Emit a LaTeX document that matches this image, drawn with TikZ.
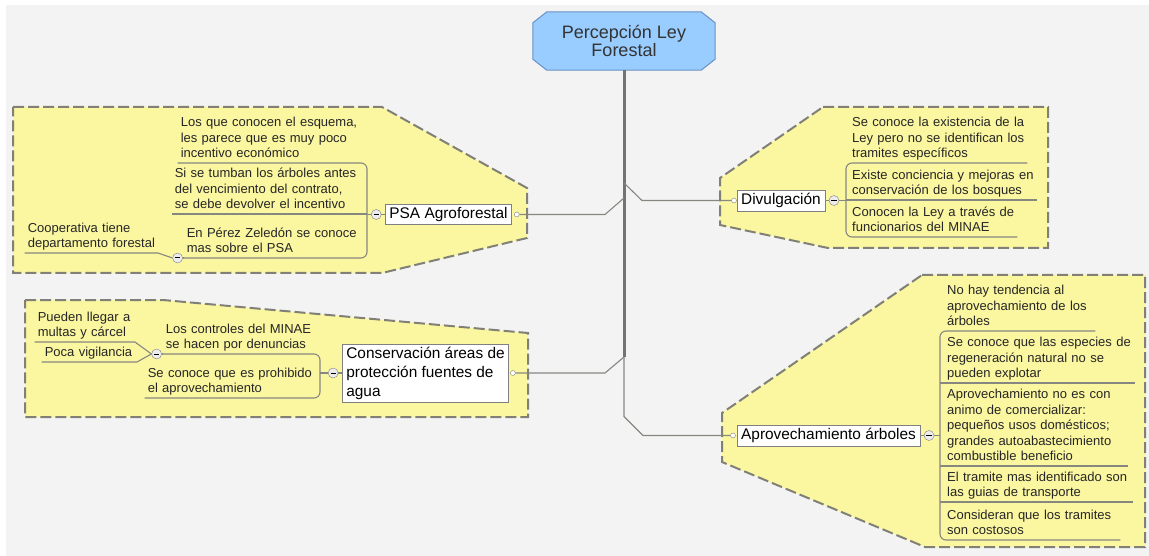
\documentclass[tikz,border=0pt]{standalone}
\usepackage{fontspec}
\setmainfont{Liberation Sans}
\usetikzlibrary{backgrounds}
\definecolor{bggray}{RGB}{243,243,243}
\definecolor{notefill}{RGB}{251,246,160}
\definecolor{noteline}{RGB}{128,128,118}
\definecolor{linkgray}{RGB}{135,135,130}
\definecolor{titlefill}{RGB}{153,204,255}
\definecolor{titleline}{RGB}{105,145,195}
\newcommand{\rows}[1]{\begin{tabular}[b]{@{}l@{}}#1\end{tabular}}

\begin{document}
\begin{tikzpicture}[x=1pt,y=-1pt,
  note/.style={fill=notefill,draw=noteline,line width=2pt,dash pattern=on 11pt off 4pt},
  link/.style={draw=linkgray,line width=1.1pt},
  trunk/.style={draw=gray!90!black,line width=3pt},
  title/.style={minimum width=182pt,minimum height=58pt,
    align=center,font=\fontsize{18}{18.5}\selectfont,text=black!80},
  titlebox/.style={draw=titleline,fill=titlefill,line width=1pt},
  topic/.style={draw=gray,fill=white,font=\fontsize{15.4}{19}\selectfont,inner xsep=4pt,inner ysep=3pt,align=left},
  leaf/.style={inner ysep=0.5pt,align=left,font=\fontsize{13}{15.5}\selectfont,text=black!85},
  rleaf/.style={leaf,anchor=south west,inner xsep=6pt},
  lleaf/.style={leaf,anchor=south east,inner xsep=3pt},
  fold/.style={circle,draw=gray,fill=gray!15,inner sep=0pt,minimum size=10pt,
    path picture={\draw[black,line width=1pt] ([xshift=-2.6pt]path picture bounding box.center) -- ([xshift=2.6pt]path picture bounding box.center);}},
  handle/.style={circle,draw=gray,fill=white,inner sep=0pt,minimum size=5pt}]

% canvas
\useasboundingbox (0,0) rectangle (1149,556);
\begin{scope}[on background layer]
\fill[white] (0,0) rectangle (1149,556);
\fill[bggray] (6,5) rectangle (1149,556);
\end{scope}

% yellow boundaries
\draw[note] (13,107) -- (382,107) -- (527,188) -- (527,238) -- (382,273) -- (13,273) -- cycle;
\draw[note] (823,107) -- (1048,107) -- (1048,248) -- (828,248) -- (720,225) -- (720,178) -- cycle;
\draw[note] (25,300) -- (163,300) -- (528,333) -- (528,417) -- (25,417) -- cycle;
\draw[note] (922,275) -- (1145,275) -- (1145,547) -- (925,547) -- (722,462) -- (722,413) -- cycle;

% central topic and main topics
\node[title] (title) at (624,41) {Percepción Ley\\Forestal};
\begin{scope}[on background layer]
\draw[titlebox] ([xshift=14pt]title.north west) -- ([xshift=-14pt]title.north east)
  -- ([yshift=-11pt]title.north east) -- ([yshift=11pt]title.south east)
  -- ([xshift=-14pt]title.south east) -- ([xshift=14pt]title.south west)
  -- ([yshift=11pt]title.south west) -- ([yshift=-11pt]title.north west) -- cycle;
\end{scope}
\node[topic] (psa) at (448.5,214.5) {PSA Agroforestal};
\node[topic] (div) at (781,200.5) {Divulgación};
\node[topic] (con) at (425.5,373) {Conservación áreas de\\protección fuentes de\\agua};
\node[topic] (apr) at (828.5,435.5) {Aprovechamiento árboles};

\node[handle] (psah) at ([xshift=5pt]psa.east) {};
\node[handle] (conh) at ([xshift=4pt]con.east) {};
\node[handle] (divh) at ([xshift=-3pt]div.west) {};
\node[handle] (aprh) at ([xshift=-4pt]apr.west) {};
\node[fold] (psaf) at ([xshift=-9pt]psa.west) {};
\node[fold] (conf) at ([xshift=-9pt]con.west) {};
\node[fold] (divf) at ([xshift=9pt]div.east) {};
\node[fold] (aprf) at ([xshift=9pt]apr.east) {};

% trunk
\coordinate (tdiv) at (624,183);
\coordinate (tpsa) at (624,198);
\coordinate (tcon) at (624,357);
\draw[trunk] (title.south) -- (tcon);
\draw[link] (psah.east) -- ([xshift=-19pt]psah.east -| tpsa) -- (tpsa);
\draw[link] (tdiv) -- ([xshift=18pt]tdiv |- divh.west) -- (divh.west);
\draw[link] (conh.east) -- ([xshift=-19pt]conh.east -| tcon) -- (tcon);
\draw[link] (tcon) -- ([yshift=19pt]aprh.west -| tcon) -- ([xshift=19pt]aprh.west -| tcon) -- (aprh.west);
\foreach \f/\t in {psaf/psa,conf/con,divf/div,aprf/apr}
  \draw[link] (\f) -- (\t);

% Divulgacion
\node[rleaf,text width=169pt] (d1) at (846,163) {\rows{Se conoce la existencia de la\\Ley pero no se identifican los\\tramites específicos}};
\node[rleaf,text width=179pt] (d2) at (846,200) {\rows{Existe conciencia y mejoras en\\conservación de los bosques}};
\node[rleaf,text width=159pt] (d3) at (846,237) {\rows{Conocen la Ley a través de\\funcionarios del MINAE}};
\draw[link,rounded corners=6pt] (d1.south east) -- (d1.south west) -- (d3.south west) -- (d3.south east);
\draw[link] (d2.south west) -- (d2.south east);
\draw[link] (divf.east) -- (divf.east -| d2.south west);

% Aprovechamiento
\node[rleaf,inner xsep=7pt,text width=141pt] (a1) at (940,331) {\rows{No hay tendencia al\\aprovechamiento de los\\árboles}};
\node[rleaf,inner xsep=7pt,text width=181pt] (a2) at (940,383) {\rows{Se conoce que las especies de\\regeneración natural no se\\pueden explotar}};
\node[rleaf,inner xsep=7pt,text width=174pt] (a3) at (940,466) {\rows{Aprovechamiento no es con\\animo de comercializar:\\pequeños usos domésticos;\\grandes autoabastecimiento\\combustible beneficio}};
\node[rleaf,inner xsep=7pt,text width=179pt] (a4) at (940,502) {\rows{El tramite mas identificado son\\las guias de transporte}};
\node[rleaf,inner xsep=7pt,text width=166pt] (a5) at (940,540) {\rows{Consideran que los tramites\\son costosos}};
\draw[link,rounded corners=6pt] (a1.south east) -- (a1.south west) -- (a5.south west) -- (a5.south east);
\foreach \n in {a2,a3,a4}
  \draw[link] (\n.south west) -- (\n.south east);
\draw[link] (aprf.east) -- (aprf.east -| a1.south west);

% PSA Agroforestal
\node[lleaf,text width=183pt] (p1) at (367,163) {\rows{Los que conocen el esquema,\\les parece que es muy poco\\incentivo económico}};
\node[lleaf,text width=189pt] (p2) at (367,214) {\rows{Si se tumban los árboles antes\\del vencimiento del contrato,\\se debe devolver el incentivo}};
\node[lleaf,text width=177pt] (p3) at (367,258) {\rows{En Pérez Zeledón se conoce\\mas sobre el PSA}};
\node[fold] (p3f) at ([xshift=-6pt]p3.south west) {};
\node[lleaf,text width=127pt] (pc) at (158,253) {\rows{Cooperativa tiene\\departamento forestal}};
\draw[link,rounded corners=6pt] (p1.south west) -- (p1.south east) -- (p3.south east) -- (p3.south west);
\draw[link] (p2.south west) -- (p2.south east);
\draw[link] (psaf.west) -- (psaf.west -| p1.south east);
\draw[link] (p3f.east) -- (p3.south west);
\draw[link] (pc.south west) -- (pc.south east) -- (p3f.west);

% Conservacion
\node[lleaf,text width=151pt] (k1) at (320,354) {\rows{Los controles del MINAE\\se hacen por denuncias}};
\node[lleaf,text width=169pt] (k2) at (320,398) {\rows{Se conoce que es prohibido\\el aprovechamiento}};
\node[fold] (k1f) at ([xshift=-6pt]k1.south west) {};
\node[lleaf,text width=94pt] (k1a) at (135,342) {\rows{Pueden llegar a\\multas y cárcel}};
\node[lleaf,text width=89pt] (k1b) at (137,362) {\rows{Poca vigilancia}};
\draw[link,rounded corners=6pt] (k1.south west) -- (k1.south east) -- (k2.south east) -- (k2.south west);
\draw[link] (conf.west) -- (conf.west -| k1.south east);
\draw[link] (k1f.east) -- (k1.south west);
\draw[link] (k1a.south west) -- (k1a.south east) -- (k1f.west);
\draw[link] (k1b.south west) -- (k1b.south east) -- (k1f.west);
\end{tikzpicture}
\end{document}
